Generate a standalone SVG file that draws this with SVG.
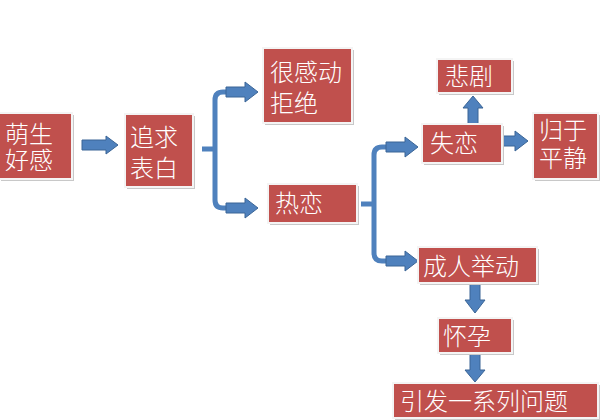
<svg xmlns="http://www.w3.org/2000/svg" width="600" height="420" viewBox="0 0 600 420">
<defs>
<style>
.box{fill:#c0504d;stroke:#f4f4f4;stroke-width:2}
.sh{fill:#c8c8c8}
.t{font-family:"Noto Sans CJK SC","Noto Sans",sans-serif;font-size:24px;font-weight:300;fill:#ffffff}
.arr{fill:#4f81bd;stroke:#3b6596;stroke-width:1}
.ln{fill:none;stroke:#4f81bd;stroke-width:5}
</style>
</defs>
<rect width="600" height="420" fill="#ffffff"/>
<g id="connectors">
<polygon class="arr" points="82,140 106,140 106,136 118,145 106,154 106,150 82,150"/>
<path class="ln" d="M202,149 H215 M215,100 Q215,92 223,92 H228 M215,100 V200 Q215,208 223,208 H228"/>
<polygon class="arr" points="226,87 245,87 245,82 258,92 245,102 245,97 226,97"/>
<polygon class="arr" points="226,203 245,203 245,198 258,208 245,218 245,213 226,213"/>
<path class="ln" d="M361,204 H374 M374,155 Q374,147 382,147 H388 M374,155 V253 Q374,261 382,261 H388"/>
<polygon class="arr" points="386,142 405,142 405,137 418,147 405,157 405,152 386,152"/>
<polygon class="arr" points="386,256 405,256 405,251 418,261 405,271 405,266 386,266"/>
<polygon class="arr" points="468,124 468,108 463,108 473,96 483,108 478,108 478,124"/>
<polygon class="arr" points="502,136 515,136 515,131 528,141 515,151 515,146 502,146"/>
<polygon class="arr" points="470,284 470,300 465,300 475,313 485,300 480,300 480,284"/>
<polygon class="arr" points="470,354 470,370 465,370 475,382 485,370 480,370 480,354"/>
</g>
<g id="n1"><rect class="sh" x="1" y="115" width="73" height="66"/><rect class="box" x="-2" y="113" width="74" height="66"/><text class="t"><tspan x="5" y="143">萌生</tspan><tspan x="5" y="169">好感</tspan></text></g>
<g id="n2"><rect class="sh" x="127" y="116" width="68" height="73"/><rect class="box" x="125" y="114" width="68" height="73"/><text class="t"><tspan x="130" y="146">追求</tspan><tspan x="130" y="177">表白</tspan></text></g>
<g id="n3"><rect class="sh" x="265" y="50" width="89" height="75"/><rect class="box" x="263" y="48" width="89" height="75"/><text class="t"><tspan x="270" y="81">很感动</tspan><tspan x="270" y="112">拒绝</tspan></text></g>
<g id="n4"><rect class="sh" x="270" y="186" width="89" height="39"/><rect class="box" x="268" y="184" width="89" height="39"/><text class="t" x="275" y="212">热恋</text></g>
<g id="n5"><rect class="sh" x="439" y="61" width="75" height="34"/><rect class="box" x="437" y="59" width="75" height="34"/><text class="t" x="445" y="85">悲剧</text></g>
<g id="n6"><rect class="sh" x="424" y="126" width="80" height="39"/><rect class="box" x="422" y="124" width="80" height="39"/><text class="t" x="430" y="152">失恋</text></g>
<g id="n7"><rect class="sh" x="535" y="115" width="65" height="66"/><rect class="box" x="533" y="113" width="65" height="66"/><text class="t"><tspan x="539" y="139">归于</tspan><tspan x="539" y="167">平静</tspan></text></g>
<g id="n8"><rect class="sh" x="420" y="249" width="119" height="36"/><rect class="box" x="418" y="247" width="119" height="36"/><text class="t" x="423" y="275">成人举动</text></g>
<g id="n9"><rect class="sh" x="440" y="320" width="74" height="35"/><rect class="box" x="438" y="318" width="74" height="35"/><text class="t" x="443" y="345">怀孕</text></g>
<g id="n10"><rect class="sh" x="395" y="385" width="205" height="35"/><rect class="box" x="393" y="383" width="205" height="35"/><text class="t" x="400" y="410">引发一系列问题</text></g>
</svg>
